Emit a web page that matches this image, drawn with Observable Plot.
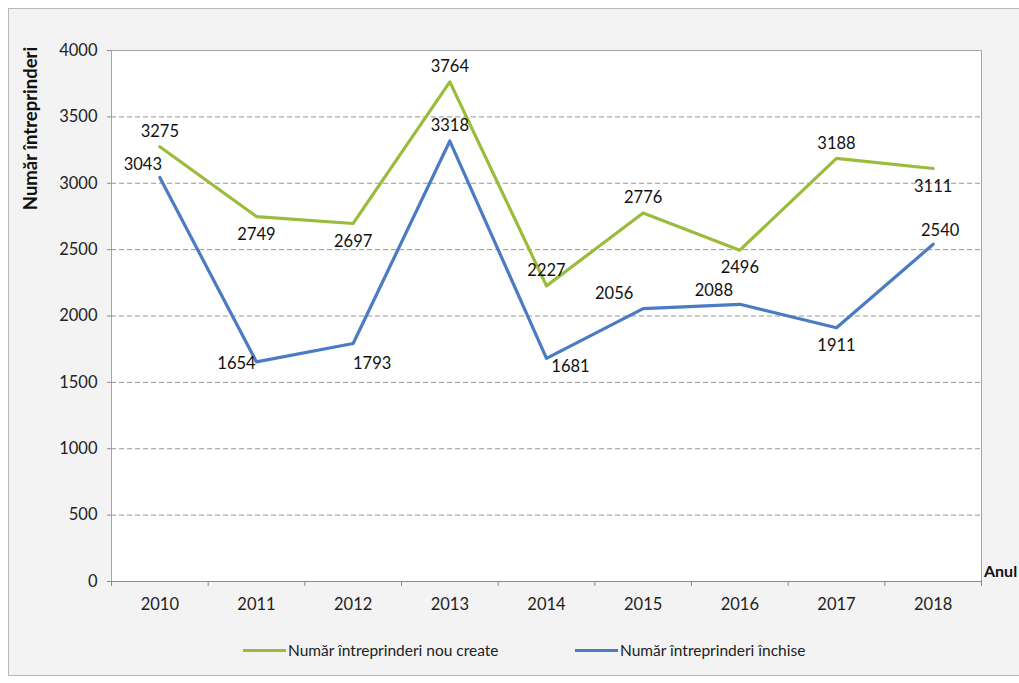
<!DOCTYPE html>
<html>
<head>
<meta charset="utf-8">
<script src="https://cdn.jsdelivr.net/npm/d3@7"></script>
<script src="https://cdn.jsdelivr.net/npm/@observablehq/plot@0.6"></script>
<style>
  html, body { margin: 0; padding: 0; width: 1019px; height: 683px; overflow: hidden; background: #ffffff; font-family: Lato, "Open Sans", sans-serif; }
  #frame { position: absolute; left: 8px; top: 8px; width: 1020px; height: 668px; background: #f3f3f3; border: 1px solid #b8b8b8; box-sizing: border-box; }
  #chart { position: absolute; left: 0; top: 0; }
  #legend { position: absolute; top: 641px; left: 0; width: 1019px; height: 24px; font-size: 15.5px; color: #222; }
  .item { position: absolute; top: 0; display: flex; align-items: center; white-space: nowrap; }
  .sw { display: inline-block; width: 43px; height: 3px; margin-right: 2px; }
  #anul { position: absolute; left: 984px; top: 561px; font-weight: bold; font-size: 16px; color: #111; white-space: nowrap; }
</style>
</head>
<body>
<div id="frame"></div>
<div id="chart"></div>
<div id="anul">Anul</div>
<div id="legend"></div>
<script>
const years = [2010, 2011, 2012, 2013, 2014, 2015, 2016, 2017, 2018];
const created = [3275, 2749, 2697, 3764, 2227, 2776, 2496, 3188, 3111];
const closed = [3043, 1654, 1793, 3318, 1681, 2056, 2088, 1911, 2540];
const seriesNames = ["Număr întreprinderi nou create", "Număr întreprinderi închise"];
const yTicks = [0, 500, 1000, 1500, 2000, 2500, 3000, 3500, 4000];
const yTitle = "Număr întreprinderi";

// label placement codes (style config)
const createdPlace = ["above", "below", "below", "above", "above", "above", "below", "above", "below"];
const closedPlace = ["aboveLeft", "left", "belowRight", "above", "right", "aboveLeft2", "aboveLeft3", "below", "aboveRight"];
const placeOffsets = {
  above: [0, -15], below: [0, 18], aboveLeft: [-17, -13], left: [-20, 2],
  belowRight: [19, 20], right: [24, 8], aboveLeft2: [-29, -15], aboveLeft3: [-26, -14],
  aboveRight: [7, -14]
};
const colors = ["#9bbb3b", "#4a7bc3"];

const rows = [];
years.forEach((y, i) => {
  rows.push({year: y, value: created[i], series: seriesNames[0], place: createdPlace[i]});
  rows.push({year: y, value: closed[i], series: seriesNames[1], place: closedPlace[i]});
});

const labelMarks = Object.keys(placeOffsets).map(k => Plot.text(rows.filter(d => d.place === k), {
  x: "year", y: "value", text: d => String(d.value),
  dx: placeOffsets[k][0], dy: placeOffsets[k][1],
  fontSize: 16.5, fill: "#111"
}));

const chart = Plot.plot({
  width: 1019,
  height: 630,
  marginLeft: 111,
  marginRight: 38,
  marginTop: 50,
  marginBottom: 49,
  style: { fontFamily: "Lato, 'Open Sans', sans-serif", background: "transparent", overflow: "visible" },
  x: { domain: [2009.5, 2018.5], label: null },
  y: { domain: [0, 4000], label: null },
  color: { domain: seriesNames, range: colors },
  marks: [
    Plot.frame({ fill: "white", stroke: "#a6a6a6" }),
    Plot.gridY(yTicks.filter(t => t > 0 && t < 4000), { stroke: "#8a8a8a", strokeOpacity: 1, strokeDasharray: "5,3", strokeWidth: 0.9 }),
    Plot.ruleY([0], { stroke: "#8a8a8a" }),
    Plot.axisY(yTicks, { tickSize: 4, tickPadding: 10, fontSize: 16.5, stroke: "#8a8a8a", fill: "#222", label: null, tickFormat: d => String(d) }),
    Plot.axisX(years.slice(0, -1).map(y => y + 0.5).concat([2009.5, 2018.5]), { tickSize: 5, tickFormat: () => "", stroke: "#8a8a8a", label: null }),
    Plot.axisX(years, { tickSize: 0, tickPadding: 17, fontSize: 16.5, fill: "#222", tickFormat: d => String(d), label: null }),
    Plot.line(rows, { x: "year", y: "value", stroke: "series", z: "series", strokeWidth: 3.2 }),
    ...labelMarks,
    Plot.text([yTitle], { frameAnchor: "top-left", dx: -80, dy: 78, rotate: -90, textAnchor: "middle", lineAnchor: "middle", fontWeight: "bold", fontSize: 18.5, fill: "#111" })
  ]
});
document.getElementById("chart").appendChild(chart);

const legend = document.getElementById("legend");
const legendX = [243, 575];
seriesNames.forEach((name, i) => {
  const item = document.createElement("div");
  item.className = "item";
  item.style.left = legendX[i] + "px";
  const sw = document.createElement("span");
  sw.className = "sw";
  sw.style.background = colors[i];
  item.appendChild(sw);
  const t = document.createElement("span");
  t.textContent = name;
  item.appendChild(t);
  legend.appendChild(item);
});
</script>
</body>
</html>
